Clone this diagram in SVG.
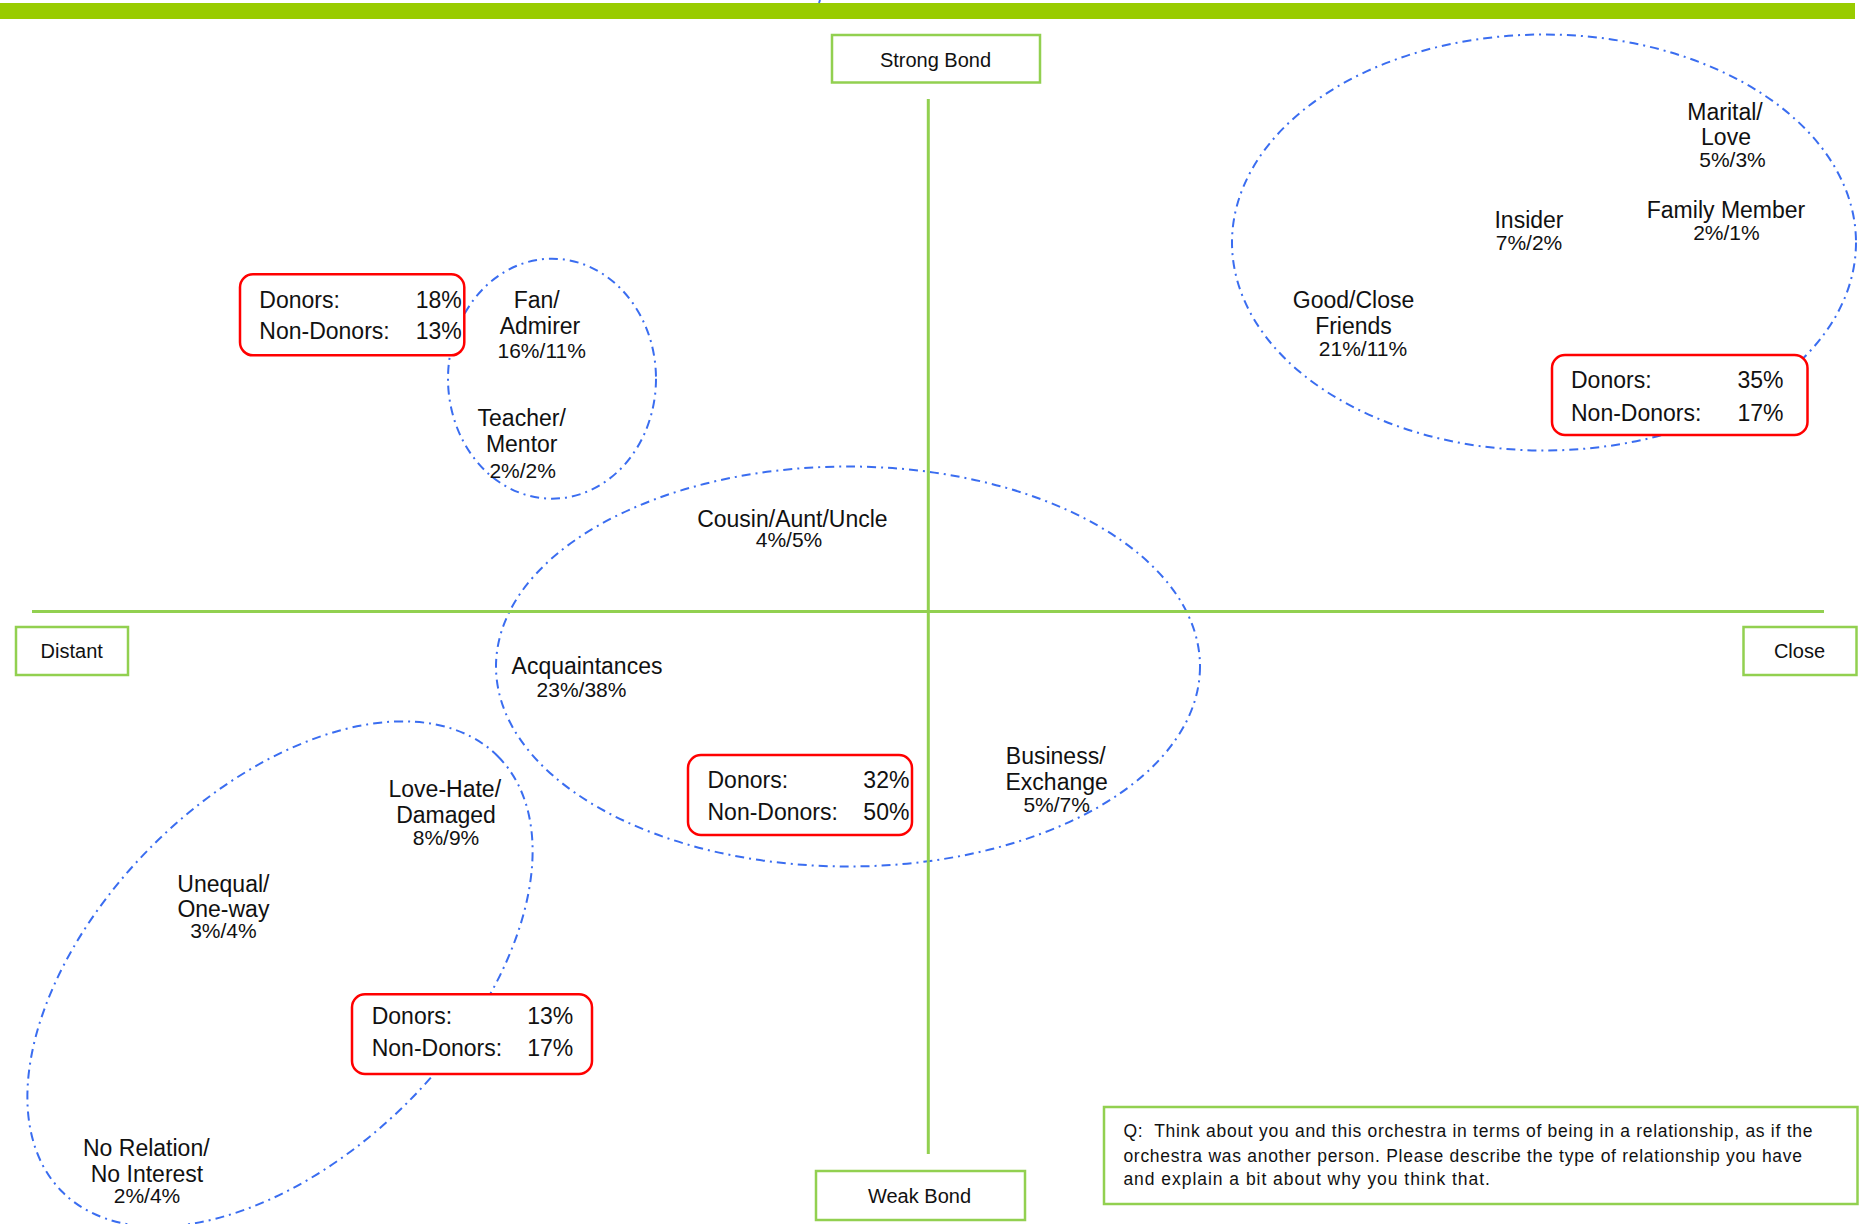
<svg xmlns="http://www.w3.org/2000/svg" width="1864" height="1224" viewBox="0 0 1864 1224">
  <style>
    text { font-family: "Liberation Sans", Arial, sans-serif; fill: #111; }
    .lbl { font-size: 23px; text-anchor: middle; }
    .pct { font-size: 21px; text-anchor: middle; }
    .axis-lbl { font-size: 20px; text-anchor: middle; }
    .stat { font-size: 23px; }
    .stat-v { font-size: 23px; text-anchor: end; }
    .q { font-size: 17.5px; }
    .cluster { fill: none; stroke: #3a6df0; stroke-width: 2; stroke-dasharray: 9 5 2 5; }
    .stat-box { fill: #fff; stroke: #ff0000; stroke-width: 2.5; }
    .axis-box { fill: #fff; stroke: #92d050; stroke-width: 2.5; }
    .axis { stroke: #92d050; stroke-width: 3; }
  </style>

  <rect width="1864" height="1224" fill="#fff"/>

  <!-- header band -->
  <rect x="0" y="3" width="1855" height="16" fill="#99cc00"/>
  <path d="M820 0 L819 3" stroke="#3a6df0" stroke-width="2"/>

  <!-- relationship clusters -->
  <g id="clusters">
    <ellipse id="cluster-close" class="cluster" cx="1544" cy="242.5" rx="312" ry="208"/>
    <ellipse id="cluster-fan" class="cluster" cx="552" cy="378.7" rx="104" ry="120"/>
    <ellipse id="cluster-middle" class="cluster" cx="848" cy="666.5" rx="352" ry="200"/>
    <ellipse id="cluster-distant" class="cluster" cx="280" cy="974" rx="308" ry="181" transform="rotate(-45 280 974)"/>
  </g>

  <!-- axes -->
  <g id="connectors">
    <line class="axis" x1="928.3" y1="99" x2="928.3" y2="1154"/>
    <line class="axis" x1="32" y1="611.5" x2="1824" y2="611.5"/>
  </g>

  <!-- axis labels -->
  <g id="strong-bond">
    <rect class="axis-box" x="832" y="35" width="208" height="47.5"/>
    <text class="axis-lbl" x="935.5" y="66.5">Strong Bond</text>
  </g>
  <g id="weak-bond">
    <rect class="axis-box" x="816" y="1171" width="209" height="49"/>
    <text class="axis-lbl" x="919.5" y="1203">Weak Bond</text>
  </g>
  <g id="distant">
    <rect class="axis-box" x="16" y="627" width="112" height="48"/>
    <text class="axis-lbl" x="71.7" y="658.3">Distant</text>
  </g>
  <g id="close">
    <rect class="axis-box" x="1743.5" y="627" width="113" height="48"/>
    <text class="axis-lbl" x="1799.5" y="658.3">Close</text>
  </g>

  <!-- category labels -->
  <g id="marital-love">
    <text class="lbl" x="1725" y="120">Marital/</text>
    <text class="lbl" x="1726" y="145">Love</text>
    <text class="pct" x="1732.5" y="166.5">5%/3%</text>
  </g>
  <g id="family-member">
    <text class="lbl" x="1726" y="217.5">Family Member</text>
    <text class="pct" x="1726.4" y="240">2%/1%</text>
  </g>
  <g id="insider">
    <text class="lbl" x="1529" y="228.3">Insider</text>
    <text class="pct" x="1529" y="250">7%/2%</text>
  </g>
  <g id="good-close-friends">
    <text class="lbl" x="1353.5" y="308.3">Good/Close</text>
    <text class="lbl" x="1353.5" y="334">Friends</text>
    <text class="pct" x="1363" y="356">21%/11%</text>
  </g>
  <g id="fan-admirer">
    <text class="lbl" x="536.7" y="308.3">Fan/</text>
    <text class="lbl" x="540" y="334.3">Admirer</text>
    <text class="pct" x="541.7" y="358.3">16%/11%</text>
  </g>
  <g id="teacher-mentor">
    <text class="lbl" x="521.7" y="425.7">Teacher/</text>
    <text class="lbl" x="521.7" y="452.3">Mentor</text>
    <text class="pct" x="522.7" y="478.3">2%/2%</text>
  </g>
  <g id="cousin-aunt-uncle">
    <text class="lbl" x="792.4" y="526.7">Cousin/Aunt/Uncle</text>
    <text class="pct" x="789" y="547.3">4%/5%</text>
  </g>
  <g id="acquaintances">
    <text class="lbl" x="587" y="674">Acquaintances</text>
    <text class="pct" x="581.5" y="697">23%/38%</text>
  </g>
  <g id="business-exchange">
    <text class="lbl" x="1055.7" y="764">Business/</text>
    <text class="lbl" x="1056.7" y="790">Exchange</text>
    <text class="pct" x="1056.7" y="811.7">5%/7%</text>
  </g>
  <g id="love-hate-damaged">
    <text class="lbl" x="444.8" y="796.7">Love-Hate/</text>
    <text class="lbl" x="446" y="822.7">Damaged</text>
    <text class="pct" x="446" y="845">8%/9%</text>
  </g>
  <g id="unequal-one-way">
    <text class="lbl" x="223.4" y="891.7">Unequal/</text>
    <text class="lbl" x="223.4" y="916.7">One-way</text>
    <text class="pct" x="223.4" y="938.3">3%/4%</text>
  </g>
  <g id="no-relation">
    <text class="lbl" x="146.3" y="1156">No Relation/</text>
    <text class="lbl" x="147" y="1181.7">No Interest</text>
    <text class="pct" x="147" y="1202.7">2%/4%</text>
  </g>

  <!-- donor / non-donor shares per cluster -->
  <g id="share-close">
    <rect class="stat-box" x="1552" y="355" width="255.5" height="80" rx="13"/>
    <text class="stat" x="1571" y="388.3">Donors:</text>
    <text class="stat-v" x="1783.5" y="388.3">35%</text>
    <text class="stat" x="1571" y="420.7">Non-Donors:</text>
    <text class="stat-v" x="1783.5" y="420.7">17%</text>
  </g>
  <g id="share-fan">
    <rect class="stat-box" x="240" y="274.3" width="224.3" height="81" rx="13"/>
    <text class="stat" x="259.3" y="308.3">Donors:</text>
    <text class="stat-v" x="461.7" y="308.3">18%</text>
    <text class="stat" x="259.3" y="339.3">Non-Donors:</text>
    <text class="stat-v" x="461.7" y="339.3">13%</text>
  </g>
  <g id="share-middle">
    <rect class="stat-box" x="688" y="755" width="224" height="80" rx="13"/>
    <text class="stat" x="707.5" y="788.3">Donors:</text>
    <text class="stat-v" x="909.4" y="788.3">32%</text>
    <text class="stat" x="707.5" y="820">Non-Donors:</text>
    <text class="stat-v" x="909.4" y="820">50%</text>
  </g>
  <g id="share-distant">
    <rect class="stat-box" x="352" y="994.3" width="240" height="79.7" rx="13"/>
    <text class="stat" x="371.7" y="1024">Donors:</text>
    <text class="stat-v" x="573.3" y="1024">13%</text>
    <text class="stat" x="371.7" y="1056">Non-Donors:</text>
    <text class="stat-v" x="573.3" y="1056">17%</text>
  </g>

  <!-- survey question -->
  <g id="question">
    <rect class="axis-box" x="1104" y="1107" width="753.5" height="97"/>
    <text class="q" x="1123.4" y="1136.7" textLength="689" xml:space="preserve">Q:  Think about you and this orchestra in terms of being in a relationship, as if the</text>
    <text class="q" x="1123.4" y="1161.7" textLength="678.6">orchestra was another person. Please describe the type of relationship you have</text>
    <text class="q" x="1123.4" y="1185" textLength="366.5">and explain a bit about why you think that.</text>
  </g>
</svg>
